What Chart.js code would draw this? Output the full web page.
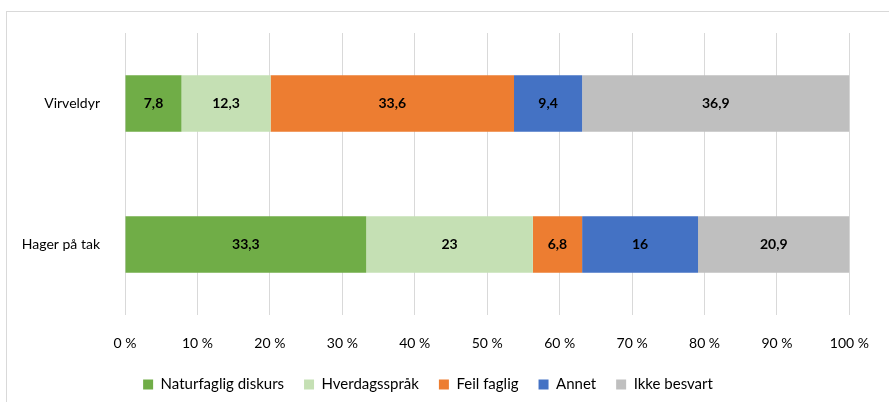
<!DOCTYPE html>
<html>
<head>
<meta charset="utf-8">
<script src="https://cdn.jsdelivr.net/npm/chart.js@4.4.1/dist/chart.umd.min.js"></script>
<style>
    body { margin: 0; background: #fff; overflow: hidden; }
    #frame { position: absolute; left: 6px; top: 11px; width: 900px; height: 400px; border: 1px solid #d9d9d9; }
    #wrap { position: absolute; left: 0; top: 0; width: 889px; height: 402px; }
</style>
</head>
<body>
<div id="frame"></div>
<div id="wrap"><canvas id="Chart"></canvas></div>
<script>
// categories and series (percent)
const categories = ["Virveldyr", "Hager på tak"];
const naturfaglig = [7.8, 33.3];
const hverdagssprak = [12.3, 23];
const feilFaglig = [33.6, 6.8];
const annet = [9.4, 16];
const ikkeBesvart = [36.9, 20.9];
const xTicks = [0, 10, 20, 30, 40, 50, 60, 70, 80, 90, 100];

const FONT = "Lato, 'Open Sans', sans-serif";

// draws the value inside each bar segment
const barLabels = {
    id: 'barLabels',
    afterDatasetsDraw(chart) {
        const ctx = chart.ctx;
        ctx.save();
        ctx.font = "bold 14px " + FONT;
        ctx.fillStyle = "#000";
        ctx.textAlign = "center";
        ctx.textBaseline = "middle";
        chart.data.datasets.forEach((ds, i) => {
            chart.getDatasetMeta(i).data.forEach((bar, j) => {
                const p = bar.getProps(['x', 'y', 'base'], true);
                ctx.fillText(String(ds.data[j]).replace('.', ','), (p.x + p.base) / 2, p.y);
            });
        });
        ctx.restore();
    }
};

new Chart(document.getElementById("Chart"), {
    type: 'bar',
    data: {
        labels: categories,
        datasets: [
            { label: "Naturfaglig diskurs", data: naturfaglig, backgroundColor: "#70ad47" },
            { label: "Hverdagsspråk", data: hverdagssprak, backgroundColor: "#c5e0b4" },
            { label: "Feil faglig", data: feilFaglig, backgroundColor: "#ed7d31" },
            { label: "Annet", data: annet, backgroundColor: "#4472c4" },
            { label: "Ikke besvart", data: ikkeBesvart, backgroundColor: "#bfbfbf" }
        ]
    },
    options: {
        indexAxis: 'y',
        responsive: true,
        maintainAspectRatio: false,
        animation: false,
        datasets: { bar: { categoryPercentage: 1, barPercentage: 0.4 } },
        layout: { padding: { top: 33, right: 33, left: 0, bottom: 0 } },
        scales: {
            x: {
                stacked: true,
                min: 0,
                max: 100,
                afterBuildTicks: (s) => { s.ticks = xTicks.map(v => ({ value: v })); },
                afterFit: (s) => { s.height = 42; },
                grid: { color: "#d9d9d9", drawTicks: false },
                border: { display: false },
                ticks: {
                    padding: 20,
                    color: "#000",
                    font: { family: FONT, size: 14 },
                    callback: (v) => v + " %"
                }
            },
            y: {
                stacked: true,
                afterFit: (s) => { s.width = 125; },
                grid: { display: false },
                border: { display: false },
                ticks: {
                    padding: 17,
                    color: "#000",
                    font: { family: FONT, size: 14 }
                }
            }
        },
        plugins: {
            tooltip: { enabled: false },
            legend: {
                position: 'bottom',
                labels: {
                    color: "#000",
                    font: { family: FONT, size: 15 },
                    boxWidth: 10,
                    boxHeight: 10,
                    padding: 20
                }
            }
        }
    },
    plugins: [barLabels]
});
</script>
</body>
</html>
